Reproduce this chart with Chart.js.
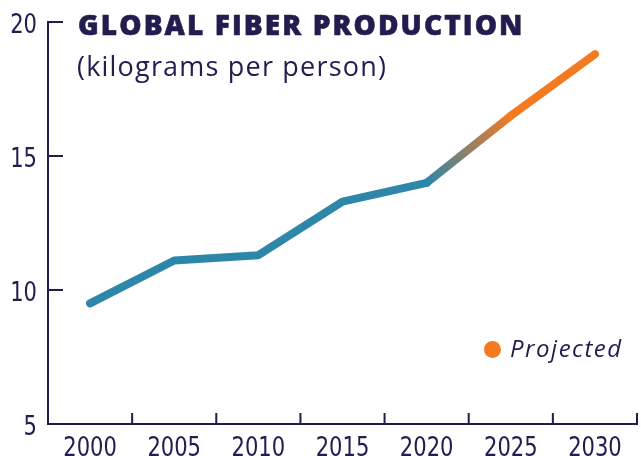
<!DOCTYPE html>
<html>
<head>
<meta charset="utf-8">
<script src="https://cdn.jsdelivr.net/npm/chart.js@4/dist/chart.umd.min.js"></script>
<style>
    html, body { margin: 0; padding: 0; background: #fff; overflow: hidden; }
    #wrap { position: relative; width: 641px; height: 456px; }
    #title { position: absolute; left: 78px; top: 5px; font: 800 28px "Open Sans", sans-serif; letter-spacing: 2.1px; color: #221c4f; white-space: nowrap; -webkit-text-stroke: 0.6px #221c4f; }
    #subtitle { position: absolute; left: 77px; top: 47px; font: 400 27px "Open Sans", sans-serif; letter-spacing: 1.2px; color: #221c4f; white-space: nowrap; }
    #legend { position: absolute; left: 484px; top: 331px; font: italic 400 24px "Open Sans", sans-serif; letter-spacing: 1.5px; color: #221c4f; white-space: nowrap; }
    #legend span { display: inline-block; width: 17px; height: 17px; border-radius: 50%; background: #f47a22; margin-right: 9px; vertical-align: -1px; }
</style>
</head>
<body>
<div id="wrap">
    <canvas id="myChart" width="641" height="456"></canvas>
    <div id="title">GLOBAL FIBER PRODUCTION</div>
    <div id="subtitle">(kilograms per person)</div>
    <div id="legend"><span></span>Projected</div>
</div>
<script>
// CHART DATA
const years = ['2000', '2005', '2010', '2015', '2020', '2025', '2030'];
const fiberKg = [9.5, 11.1, 11.3, 13.3, 14.0, 16.5, 18.8];
const yTicks = [5, 10, 15, 20];

const navy = '#221c4f';
const teal = '#2e87a8';
const orange = '#f47a22';

/**
 * colour for each segment, gradient on the 2020-2025 one
 * @param seg
 */
function segmentColor(seg) {
    if (seg.p0DataIndex < 4) return teal;
    if (seg.p0DataIndex > 4) return orange;
    let g = seg.chart.ctx.createLinearGradient(seg.p0.x, seg.p0.y, seg.p1.x, seg.p1.y);
    g.addColorStop(0, teal);
    g.addColorStop(1, orange);
    return g;
}

/**
 * condensed text: squeeze the label horizontally
 */
function narrowText(c, text, x, y, align) {
    c.save();
    c.translate(x, y);
    c.scale(0.78, 1);
    c.textAlign = align;
    c.fillText(text, 0, 0);
    c.restore();
}

// inward tick marks and condensed tick labels
const axisDecor = {
    id: 'axisDecor',
    afterDraw(chart) {
        const c = chart.ctx;
        const xs = chart.scales.x;
        const ys = chart.scales.y;
        c.save();
        c.strokeStyle = navy;
        c.lineWidth = 2;
        c.beginPath();
        yTicks.forEach(function (v) {
            let y = ys.getPixelForValue(v);
            c.moveTo(ys.right, y);
            c.lineTo(ys.right + 15, y);
        });
        for (let i = 0; i <= years.length; i++) {
            let x = xs.getPixelForValue(i - 0.5);
            c.moveTo(x, xs.top);
            c.lineTo(x, xs.top - 11);
        }
        c.stroke();

        c.fillStyle = navy;
        c.font = '27px "DejaVu Sans", sans-serif';
        c.textBaseline = 'middle';
        yTicks.forEach(function (v) {
            narrowText(c, String(v), ys.right - 11, ys.getPixelForValue(v) + 4, 'right');
        });
        c.textBaseline = 'top';
        years.forEach(function (yr, i) {
            narrowText(c, yr, xs.getPixelForValue(i), xs.top + 11, 'center');
        });
        c.restore();
    }
};

let ctx = document.getElementById('myChart');
let chart = new Chart(ctx, {
    type: 'line',
    data: {
        labels: years,
        datasets: [{
            data: fiberKg,
            borderWidth: 8,
            borderCapStyle: 'round',
            borderJoinStyle: 'round',
            pointRadius: 0,
            borderColor: teal,
            segment: {borderColor: segmentColor}
        }]
    },
    options: {
        responsive: false,
        animation: false,
        layout: {padding: {top: 22, right: 4, left: 0, bottom: 0}},
        plugins: {legend: {display: false}, tooltip: {enabled: false}},
        scales: {
            x: {
                offset: true,
                grid: {display: false, offset: true},
                border: {color: navy, width: 2},
                ticks: {display: false},
                afterFit: function (s) { s.height = 32; }
            },
            y: {
                min: 5,
                max: 20,
                afterBuildTicks: function (s) { s.ticks = yTicks.map(v => ({value: v})); },
                grid: {display: false},
                border: {color: navy, width: 2},
                ticks: {display: false},
                afterFit: function (s) { s.width = 48; }
            }
        }
    },
    plugins: [axisDecor]
});
</script>
</body>
</html>
